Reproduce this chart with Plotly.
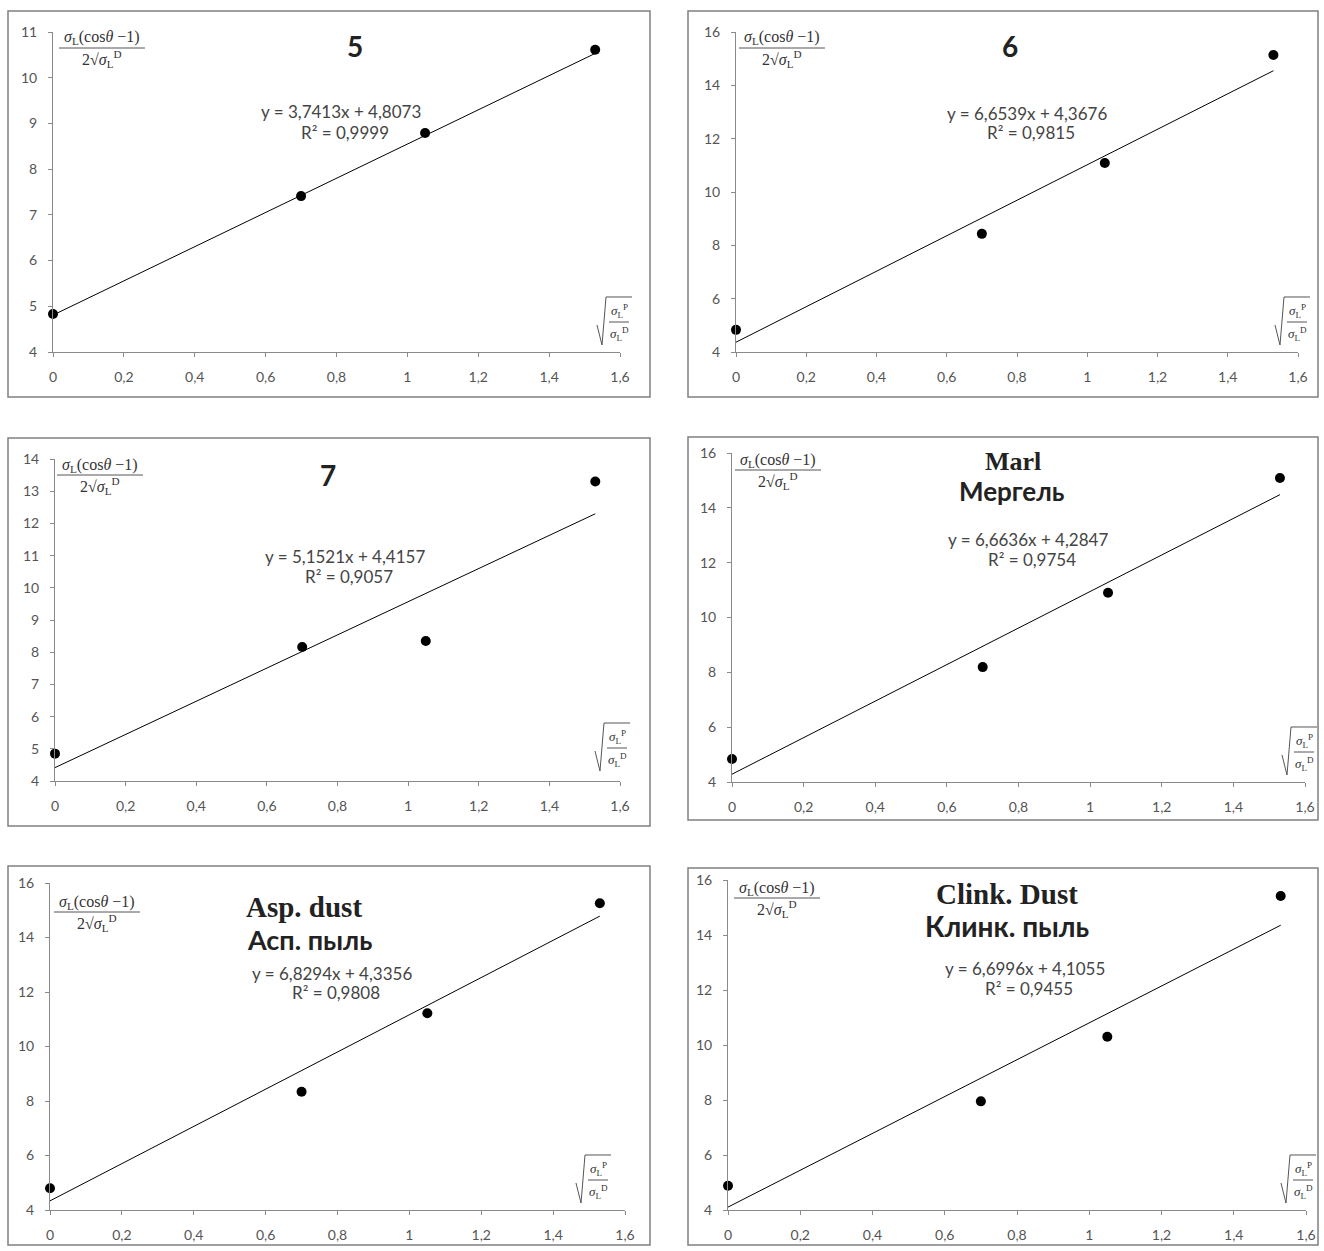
import plotly.graph_objects as go

W, H = 1324, 1251

# ---------------- data ----------------
x_vals = [0, 0.70, 1.05, 1.53]
titles_en = ["5", "6", "7", "Marl", "Asp. dust", "Clink. Dust"]
titles_ru = ["", "", "", "Мергель", "Асп. пыль", "Клинк. пыль"]
y_p5 = [4.83, 7.41, 8.79, 10.61]
y_p6 = [4.83, 8.43, 11.09, 15.14]
y_p7 = [4.85, 8.16, 8.35, 13.30]
y_marl = [4.84, 8.19, 10.90, 15.09]
y_asp = [4.80, 8.34, 11.22, 15.26]
y_clink = [4.88, 7.95, 10.30, 15.42]
slopes = [3.7413, 6.6539, 5.1521, 6.6636, 6.8294, 6.6996]
intercepts = [4.8073, 4.3676, 4.4157, 4.2847, 4.3356, 4.1055]
r2 = [0.9999, 0.9815, 0.9057, 0.9754, 0.9808, 0.9455]
y_ranges = [(4, 11), (4, 16), (4, 14), (4, 16), (4, 16), (4, 16)]
y_dticks = [1, 2, 1, 2, 2, 2]
x_range = (0, 1.6)
x_dtick = 0.2
series = [y_p5, y_p6, y_p7, y_marl, y_asp, y_clink]

# ---------------- layout config (pixels in reference image) ----------------
plots = [(53, 32, 620, 352), (736, 32, 1298, 352), (55, 459, 620, 781),
         (732, 453, 1305, 782), (50, 883, 625, 1210), (728, 880, 1306, 1210)]
boxes = [(8, 11, 650, 397), (688, 11, 1318, 397), (8, 438, 650, 826),
         (688, 437, 1318, 820), (8, 866, 650, 1245), (688, 868, 1318, 1245)]
title_pos = [(355, 46), (1010, 46), (328, 475), (1013, 462), (304, 907), (1007, 894)]
title_ru_pos = [None, None, None, (1012, 491), (309, 939), (1007, 926)]
title_en_size = [28, 28, 28, 26, 29, 29]
title_ru_size = [0, 0, 0, 26, 27, 28]
eq_pos = [(341, 112), (1027, 113), (345, 556), (1028, 539), (332, 973), (1025, 968)]
ylab_pos = [(102, 38), (782, 38), (100, 465), (778, 460), (97, 902), (777, 888)]
xlab_pos = [(615, 322), (1293, 322), (613, 748), (1300, 752), (594, 1180), (1299, 1180)]


def px(x):
    return x / W


def py(y):
    return 1 - y / H


def ann(text, x, y, font):
    return dict(text=text, x=px(x), y=py(y), xref="paper", yref="paper",
                showarrow=False, xanchor="center", yanchor="middle", align="center",
                font=font)


fig = go.Figure()
layout = dict(width=W, height=H, margin=dict(l=0, r=0, t=0, b=0, pad=0, autoexpand=False),
              paper_bgcolor="white", plot_bgcolor="white", template="none",
              separators=", ", showlegend=False)
annotations = []
shapes = []

axis_col = "#8a8a8a"
sans = "Lato, Open Sans, sans-serif"
tick_font = dict(family=sans, size=14, color="#555555")
serif = "Liberation Serif, DejaVu Serif, serif"
math_font = dict(family=serif, size=16, color="#333333")
small_math = dict(family=serif, size=13, color="#333333")
eq_font = dict(family=sans, size=17, color="#444444")

for i in range(6):
    n = "" if i == 0 else str(i + 1)
    xa, ya = "x" + n, "y" + n
    x0, y0, x1, y1 = plots[i]
    layout["xaxis" + n] = dict(
        domain=[px(x0), px(x1)], anchor=ya, range=list(x_range), dtick=x_dtick, tick0=0,
        showline=True, linecolor=axis_col, linewidth=1, ticks="outside", ticklen=4,
        tickcolor=axis_col, showgrid=False, zeroline=False, tickfont=tick_font,
        ticklabelstandoff=8, automargin=False)
    layout["yaxis" + n] = dict(
        domain=[py(y1), py(y0)], anchor=xa, range=list(y_ranges[i]), dtick=y_dticks[i],
        tick0=0, showline=True, linecolor=axis_col, linewidth=1, ticks="outside",
        ticklen=4, tickcolor=axis_col, showgrid=False, zeroline=False,
        tickfont=tick_font, ticklabelstandoff=8, automargin=False)

    ys = series[i]
    fig.add_trace(go.Scatter(x=x_vals, y=ys, mode="markers", xaxis=xa, yaxis=ya,
                             marker=dict(color="black", size=10), cliponaxis=False))
    xl = [min(x_vals), max(x_vals)]
    fig.add_trace(go.Scatter(x=xl, y=[slopes[i] * v + intercepts[i] for v in xl],
                             mode="lines", xaxis=xa, yaxis=ya,
                             line=dict(color="black", width=1)))

    # panel box
    bx0, by0, bx1, by1 = boxes[i]
    shapes.append(dict(type="rect", xref="paper", yref="paper", x0=px(bx0), x1=px(bx1),
                       y0=py(by1), y1=py(by0), line=dict(color="#808080", width=1.5)))

    # titles
    tx, ty = title_pos[i]
    if titles_ru[i]:
        annotations.append(ann("<b>%s</b>" % titles_en[i], tx, ty,
                               dict(family=serif, size=title_en_size[i], color="#222222")))
        rx, ry = title_ru_pos[i]
        annotations.append(ann("<b>%s</b>" % titles_ru[i], rx, ry,
                               dict(family=sans, size=title_ru_size[i], color="#222222")))
    else:
        annotations.append(ann("<b>%s</b>" % titles_en[i], tx, ty,
                               dict(family=sans, size=title_en_size[i], color="#222222")))

    # equation
    ex, ey = eq_pos[i]
    eq = "y = %sx + %s" % (("%.4f" % slopes[i]).replace(".", ","),
                           ("%.4f" % intercepts[i]).replace(".", ","))
    rr = "R² = %s" % ("%.4f" % r2[i]).replace(".", ",")
    annotations.append(ann(eq, ex, ey, eq_font))
    annotations.append(ann(rr, ex + 4, ey + 20, eq_font))

    # y-axis label fraction
    lx, ly = ylab_pos[i]
    annotations.append(ann("<i>σ</i><sub>L</sub>(cos<i>θ</i> −1)", lx, ly, math_font))
    shapes.append(dict(type="line", xref="paper", yref="paper", x0=px(lx - 43),
                       x1=px(lx + 43), y0=py(ly + 10), y1=py(ly + 10),
                       line=dict(color="#555555", width=1)))
    annotations.append(ann("2√<i>σ</i><sub>L</sub><sup>D</sup>", lx, ly + 21, math_font))

    # x-axis label: sqrt(sigma_P / sigma_D)
    cx, cy = xlab_pos[i]
    path = "M %f,%f L %f,%f L %f,%f L %f,%f" % (
        px(cx - 18), py(cy + 3), px(cx - 13), py(cy + 23),
        px(cx - 9), py(cy - 25), px(cx + 17), py(cy - 25))
    shapes.append(dict(type="path", xref="paper", yref="paper", path=path,
                       line=dict(color="#555555", width=1)))
    shapes.append(dict(type="line", xref="paper", yref="paper", x0=px(cx - 6),
                       x1=px(cx + 14), y0=py(cy), y1=py(cy),
                       line=dict(color="#555555", width=1)))
    annotations.append(ann("<i>σ</i><sub>L</sub><sup>P</sup>", cx + 4, cy - 11, small_math))
    annotations.append(ann("<i>σ</i><sub>L</sub><sup>D</sup>", cx + 4, cy + 12, small_math))

layout["annotations"] = annotations
layout["shapes"] = shapes
fig.update_layout(**layout)
fig.write_html("out.html", config={"displayModeBar": False},
               post_script="document.body.style.margin='0px';"
                           "document.body.style.overflow='hidden';")
